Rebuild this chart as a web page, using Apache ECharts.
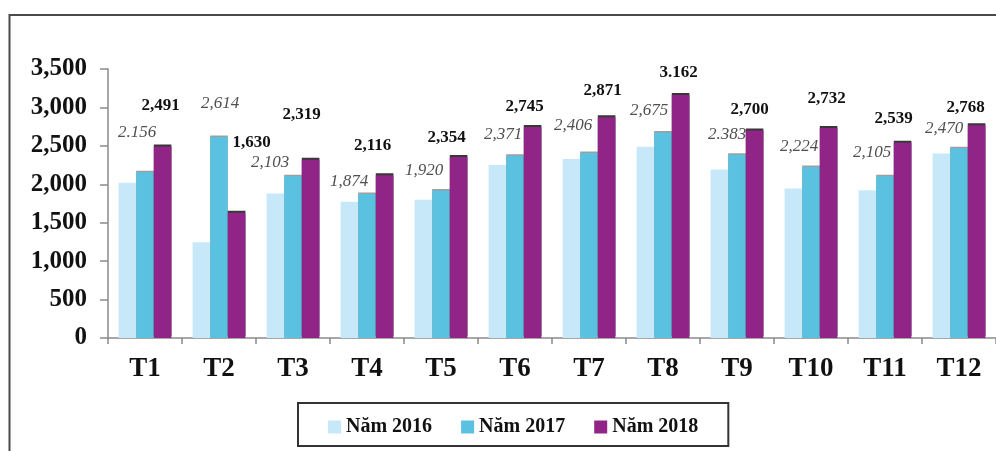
<!DOCTYPE html>
<html>
<head>
<meta charset="utf-8">
<style>
  html, body { margin: 0; padding: 0; background: #ffffff; }
  #chart { width: 996px; height: 451px; }
</style>
<script src="https://cdn.jsdelivr.net/npm/echarts@6/dist/echarts.min.js"></script>
</head>
<body>
<div id="chart"></div>
<script>
// Monthly figures, three years side by side
const months = ['T1', 'T2', 'T3', 'T4', 'T5', 'T6', 'T7', 'T8', 'T9', 'T10', 'T11', 'T12'];
const seriesNames = ['Năm 2016', 'Năm 2017', 'Năm 2018'];
const nam2016 = [2020, 1245, 1880, 1773, 1800, 2250, 2328, 2488, 2193, 1946, 1924, 2401];
const nam2017 = [2156, 2614, 2103, 1874, 1920, 2371, 2406, 2675, 2383, 2224, 2105, 2470];
const nam2018 = [2491, 1630, 2319, 2116, 2354, 2745, 2871, 3162, 2700, 2732, 2539, 2768];
const yMin = 0, yMax = 3500, yStep = 500;

// Labels written with a dot as the thousands separator
const dotSep2017 = [0, 8];
const dotSep2018 = [7];

// Hand-placed label nudges [dx, dy] relative to the top of each bar
const labelNudge2017 = [[-8, -31], [1, -25], [-23, -5], [-18, -4], [-17, -11], [-12, -13],
                        [-16, -19], [-14, -13], [-10, -12], [-12, -12], [-13, -15], [-15, -11]];
const labelNudge2018 = [[-2, -32], [15, -62], [-9, -37], [-12, -21], [-12, -11], [-8, -12],
                        [-4, -18], [-2, -14], [-5, -12], [-2, -21], [-9, -16], [-11, -9]];

const colors = ['#c6e8f8', '#5bc1e1', '#902487'];
const serif = '"Liberation Serif", "DejaVu Serif", serif';

function fmt(v, dotted) {
  const s = v.toLocaleString('en-US');
  return dotted ? s.replace(',', '.') : s;
}

function withLabels(values, nudges, dotIdx) {
  return values.map((v, i) => ({
    value: v,
    label: { offset: nudges[i], formatter: fmt(v, dotIdx.includes(i)) }
  }));
}

const chart = echarts.init(document.getElementById('chart'), null, { renderer: 'canvas' });

chart.setOption({
  backgroundColor: '#ffffff',
  animation: false,
  color: colors,
  graphic: [{
    type: 'rect',
    shape: { x: 9.5, y: 15, width: 1000, height: 500 },
    style: { fill: 'none', stroke: '#4a4a4a', lineWidth: 2 },
    z: 100
  }],
  grid: { left: 108, top: 69, width: 894, height: 269, containLabel: false },
  legend: {
    data: seriesNames,
    left: 298,
    top: 403,
    orient: 'horizontal',
    itemWidth: 13,
    itemHeight: 13,
    itemGap: 29,
    padding: [14, 30, 9, 30],
    borderColor: '#333',
    borderWidth: 2,
    icon: 'rect',
    textStyle: { fontFamily: serif, fontWeight: 'bold', fontSize: 20, color: '#111' }
  },
  xAxis: {
    type: 'category',
    data: months,
    boundaryGap: true,
    axisLine: { lineStyle: { color: '#8a8a8a', width: 1.5 } },
    axisTick: { show: true, inside: false, length: 6, alignWithLabel: false, lineStyle: { color: '#8a8a8a', width: 1.5 } },
    axisLabel: { margin: 18, fontFamily: serif, fontWeight: 'bold', fontSize: 27, color: '#111' }
  },
  yAxis: {
    type: 'value',
    min: yMin,
    max: yMax,
    interval: yStep,
    splitLine: { show: false },
    axisLine: { show: true, lineStyle: { color: '#8a8a8a', width: 1.5 } },
    axisTick: { show: true, inside: false, length: 8, lineStyle: { color: '#8a8a8a', width: 1.5 } },
    axisLabel: {
      margin: 21,
      fontFamily: serif,
      fontWeight: 'bold',
      fontSize: 25,
      color: '#111',
      formatter: v => v.toLocaleString('en-US')
    }
  },
  series: [
    {
      name: seriesNames[0],
      type: 'bar',
      data: nam2016,
      barWidth: 17.6,
      barGap: '0%',
      itemStyle: { color: colors[0] }
    },
    {
      name: seriesNames[1],
      type: 'bar',
      data: withLabels(nam2017, labelNudge2017, dotSep2017),
      barWidth: 17.6,
      barGap: '0%',
      itemStyle: { color: colors[1], shadowColor: 'rgba(40,40,40,0.45)', shadowOffsetY: -1.5, shadowBlur: 0 },
      label: {
        show: true,
        position: 'top',
        distance: 0,
        fontFamily: serif,
        fontStyle: 'italic',
        fontSize: 17,
        color: '#505050'
      }
    },
    {
      name: seriesNames[2],
      type: 'bar',
      data: withLabels(nam2018, labelNudge2018, dotSep2018),
      barWidth: 17.6,
      barGap: '0%',
      itemStyle: { color: colors[2], shadowColor: 'rgba(20,20,20,0.85)', shadowOffsetY: -2, shadowBlur: 0 },
      label: {
        show: true,
        position: 'top',
        distance: 0,
        fontFamily: serif,
        fontWeight: 'bold',
        fontSize: 17,
        color: '#111'
      }
    }
  ]
});
</script>
</body>
</html>
